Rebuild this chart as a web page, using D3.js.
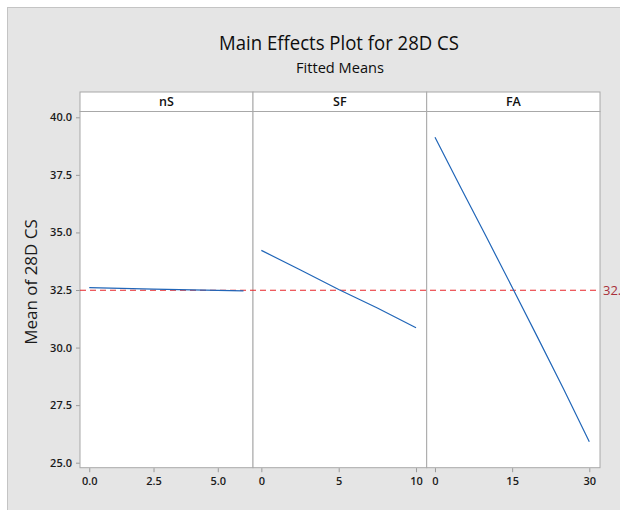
<!DOCTYPE html>
<html>
<head>
<meta charset="utf-8">
<script src="https://cdn.jsdelivr.net/npm/d3@7"></script>
<style>
  html, body { margin: 0; padding: 0; background: #ffffff; }
  svg { display: block; }
  text { font-family: "Open Sans", "Noto Sans", "DejaVu Sans", sans-serif; }
</style>
</head>
<body>
<svg id="chart" width="620" height="510"></svg>
<script>
// ---- data ----
const title = "Main Effects Plot for 28D CS";
const subtitle = "Fitted Means";
const yLabel = "Mean of 28D CS";
const factors = ["nS", "SF", "FA"];

const nS_x = [0, 2.5, 5, 6];
const nS_y = [32.60, 32.54, 32.48, 32.46];

const SF_x = [0, 2.5, 5, 7.5, 10];
const SF_y = [34.22, 33.38, 32.52, 31.72, 30.86];

const FA_x = [0, 5, 10, 15, 20, 25, 30];
const FA_y = [39.13, 36.95, 34.80, 32.62, 30.42, 28.20, 25.91];

const overallMean = 32.49;

const yTicks = [25.0, 27.5, 30.0, 32.5, 35.0, 37.5, 40.0];
const nS_ticks = [0, 2.5, 5];
const SF_ticks = [0, 5, 10];
const FA_ticks = [0, 15, 30];

// ---- layout ----
const svg = d3.select("#chart");
const W = 620, H = 510;
const plotTop = 111.5, plotBottom = 467.7, headerTop = 92;
const panelEdges = [80, 253, 426.7, 600];
const blue = "#2166b8";
const textCol = "#1a1a1a";

const panels = [
  { name: factors[0], xs: nS_x, ys: nS_y, ticks: nS_ticks, domain: [-0.36, 6.37], fmt: d3.format(".1f") },
  { name: factors[1], xs: SF_x, ys: SF_y, ticks: SF_ticks, domain: [-0.54, 10.69], fmt: d3.format("d") },
  { name: factors[2], xs: FA_x, ys: FA_y, ticks: FA_ticks, domain: [-1.61, 32.08], fmt: d3.format("d") }
];

// background frame
svg.append("rect").attr("x", 7.5).attr("y", 7.5).attr("width", W).attr("height", H)
  .attr("fill", "#e5e5e5").attr("stroke", "#c4c4c4").attr("stroke-width", 1);

// titles
svg.append("text").attr("x", 339).attr("y", 49.5)
  .attr("text-anchor", "middle").attr("font-size", 20).attr("fill", "#0d0d0d")
  .attr("textLength", 240).attr("lengthAdjust", "spacingAndGlyphs")
  .text(title);
svg.append("text").attr("x", 340).attr("y", 72.7)
  .attr("text-anchor", "middle").attr("font-size", 14.5).attr("fill", "#0d0d0d")
  .attr("textLength", 88).attr("lengthAdjust", "spacingAndGlyphs")
  .text(subtitle);

// y scale
const y = d3.scaleLinear().domain([25, 40]).range([462.7, 117.3]);

// y label
svg.append("text")
  .attr("transform", `translate(37,282) rotate(-90)`)
  .attr("text-anchor", "middle")
  .attr("font-size", 17).attr("fill", textCol)
  .text(yLabel);

// y axis
const yAxisG = svg.append("g").attr("transform", `translate(${panelEdges[0]},0)`)
  .call(d3.axisLeft(y).tickValues(yTicks).tickFormat(d3.format(".1f")).tickSize(4).tickPadding(4));
yAxisG.select(".domain").remove();
yAxisG.selectAll(".tick line").attr("stroke", "#9a9a9a");
yAxisG.selectAll(".tick text").attr("font-family", null).attr("font-size", 11)
  .attr("font-weight", 600).attr("fill", textCol);

const clipId = "plotclip";
svg.append("defs").append("clipPath").attr("id", clipId)
  .append("rect").attr("x", panelEdges[0]).attr("y", plotTop)
  .attr("width", panelEdges[3] - panelEdges[0]).attr("height", plotBottom - plotTop);

panels.forEach((p, i) => {
  const x0 = panelEdges[i], x1 = panelEdges[i + 1];
  const x = d3.scaleLinear().domain(p.domain).range([x0, x1]);
  // header
  svg.append("rect").attr("x", x0).attr("y", headerTop).attr("width", x1 - x0)
    .attr("height", plotTop - headerTop).attr("fill", "#fff").attr("stroke", "#a8a8a8");
  svg.append("text").attr("x", (x0 + x1) / 2).attr("y", 105.8)
    .attr("text-anchor", "middle").attr("font-size", 12.5).attr("font-weight", 600).attr("fill", "#111")
    .text(p.name);
  // panel
  svg.append("rect").attr("x", x0).attr("y", plotTop).attr("width", x1 - x0)
    .attr("height", plotBottom - plotTop).attr("fill", "#fff").attr("stroke", "#a8a8a8");
  // x axis
  const xg = svg.append("g").attr("transform", `translate(0,${plotBottom + 0.5})`)
    .call(d3.axisBottom(x).tickValues(p.ticks).tickFormat(p.fmt).tickSize(4).tickPadding(5));
  xg.select(".domain").remove();
  xg.selectAll(".tick line").attr("stroke", "#9a9a9a");
  xg.selectAll(".tick text").attr("font-family", null).attr("font-size", 11)
    .attr("font-weight", 600).attr("fill", textCol);
  p.x = x;
});

// reference (overall mean) line
svg.append("line")
  .attr("x1", panelEdges[0]).attr("x2", panelEdges[3])
  .attr("y1", y(overallMean)).attr("y2", y(overallMean))
  .attr("stroke", "#e8262a").attr("stroke-width", 1.2).attr("stroke-dasharray", "6,4");
svg.append("text")
  .attr("x", panelEdges[3] + 3).attr("y", y(overallMean)).attr("dy", "0.36em")
  .attr("font-size", 13).attr("fill", "#a8303a")
  .text(overallMean.toFixed(2));

// effect lines
panels.forEach(p => {
  const line = d3.line().x((d, j) => p.x(p.xs[j])).y(d => y(d));
  svg.append("path").datum(p.ys)
    .attr("clip-path", `url(#${clipId})`)
    .attr("d", line).attr("fill", "none")
    .attr("stroke", blue).attr("stroke-width", 1.2);
});
</script>
</body>
</html>
